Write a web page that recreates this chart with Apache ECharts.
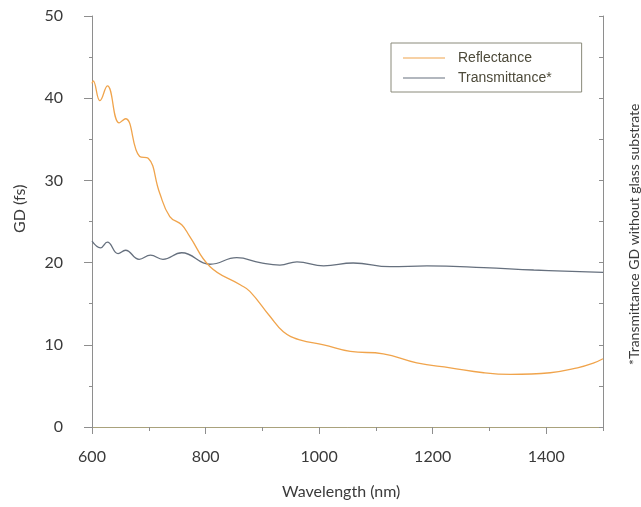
<!DOCTYPE html>
<html>
<head>
<meta charset="utf-8">
<script src="https://cdn.jsdelivr.net/npm/echarts@6/dist/echarts.min.js"></script>
<style>
html,body{margin:0;padding:0;background:#fff;}
#c{width:641px;height:507px;}
</style>
</head>
<body>
<div id="c"></div>
<script>
// ---- data ----
var reflWavelength = [600, 602, 614, 627, 648, 659, 684, 699, 719, 737, 758, 772, 808, 861, 878, 913, 937, 966, 1008, 1055, 1113, 1172, 1231, 1290, 1337, 1407, 1455, 1484, 1500];
var reflGD = [41.8, 42.1, 39.7, 41.5, 37.0, 37.5, 32.9, 32.7, 28.5, 25.6, 24.6, 23.2, 19.5, 17.3, 16.5, 13.5, 11.6, 10.6, 10.0, 9.2, 8.9, 7.8, 7.2, 6.6, 6.4, 6.6, 7.2, 7.8, 8.3];
var transWavelength = [600, 615, 627, 646, 659, 683, 703, 725, 758, 808, 855, 896, 931, 961, 1008, 1060, 1125, 1190, 1290, 1378, 1500];
var transGD = [22.6, 21.8, 22.5, 21.1, 21.5, 20.4, 20.9, 20.4, 21.2, 19.8, 20.6, 20.0, 19.7, 20.1, 19.6, 19.95, 19.5, 19.6, 19.4, 19.1, 18.8];
var seriesNames = ['Reflectance', 'Transmittance*'];
var xTitle = 'Wavelength (nm)';
var yTitle = 'GD (fs)';
var note = '*Transmittance GD without glass substrate';

function pairs(xs, ys) { return xs.map(function (x, i) { return [x, ys[i]]; }); }

var chart = echarts.init(document.getElementById('c'), null, {renderer: 'canvas'});
var labelFont = {fontFamily: 'Lato', fontSize: 16, color: '#3a3a3a'};
var hLine = '#a9a27c', vLine = '#8e8e8e';
var reflColor = '#f0a44c', transColor = '#66707e';

function xAx(opts) {
  return Object.assign({
    type: 'value', min: 600, max: 1500, position: 'bottom',
    axisLine: {show: true, lineStyle: {color: hLine, width: 1}},
    splitLine: {show: false}, axisLabel: {show: false}
  }, opts);
}
function yAx(opts) {
  return Object.assign({
    type: 'value', min: 0, max: 50, position: 'left',
    axisLine: {show: true, lineStyle: {color: vLine, width: 1}},
    splitLine: {show: false}, axisLabel: {show: false}
  }, opts);
}
var lineIcon = 'path://M0,0L42,0L42,1L0,1Z';

chart.setOption({
  backgroundColor: '#ffffff',
  animation: false,
  grid: {left: 92, right: 38, top: 16, bottom: 80, containLabel: false},
  xAxis: [
    xAx({interval: 200, axisTick: {show: true, inside: false, length: 7, lineStyle: {color: vLine}},
         axisLabel: Object.assign({show: true, margin: 22, showMaxLabel: false,
                                   formatter: function (v) { return String(v); }}, labelFont)}),
    xAx({interval: 100, axisLine: {show: false}, axisTick: {show: true, inside: false, length: 3, lineStyle: {color: vLine}}}),
    xAx({interval: 100, position: 'top', axisTick: {show: true, inside: true, length: 4, lineStyle: {color: vLine}}})
  ],
  yAxis: [
    yAx({interval: 10, axisTick: {show: true, inside: false, length: 8, lineStyle: {color: vLine}},
         axisLabel: Object.assign({show: true, margin: 29}, labelFont)}),
    yAx({interval: 5, axisLine: {show: false}, axisTick: {show: true, inside: false, length: 3, lineStyle: {color: vLine}}}),
    yAx({interval: 5, position: 'right', axisTick: {show: true, inside: true, length: 4, lineStyle: {color: vLine}}})
  ],
  legend: {
    orient: 'vertical', left: 391, top: 43,
    data: [{name: seriesNames[0], icon: lineIcon}, {name: seriesNames[1], icon: lineIcon}],
    itemWidth: 42, itemHeight: 14, itemGap: 6,
    padding: [8, 30, 7, 12],
    borderColor: '#8a8a7a', borderWidth: 1,
    textStyle: {fontFamily: 'Liberation Sans', fontSize: 14, color: '#4d4a3a', padding: [0, 0, 0, 8]}
  },
  series: [
    {name: seriesNames[0], type: 'line', symbol: 'none', smooth: 0.45,
     data: pairs(reflWavelength, reflGD), lineStyle: {color: reflColor, width: 1.3}, itemStyle: {color: reflColor}, z: 3},
    {name: seriesNames[1], type: 'line', symbol: 'none', smooth: 0.45,
     data: pairs(transWavelength, transGD), lineStyle: {color: transColor, width: 1.3}, itemStyle: {color: transColor}, z: 2}
  ],
  graphic: [
    {type: 'text', left: 282, top: 484, style: {text: xTitle, font: '16px Lato', fill: '#3a3a3a'}},
    {type: 'text', x: 12, y: 233, rotation: Math.PI / 2, style: {text: yTitle, font: '16px Lato', fill: '#3a3a3a'}},
    {type: 'text', x: 627, y: 365, rotation: Math.PI / 2, style: {text: note, font: '14px Lato', fill: '#3a3a3a'}}
  ]
});
</script>
</body>
</html>
